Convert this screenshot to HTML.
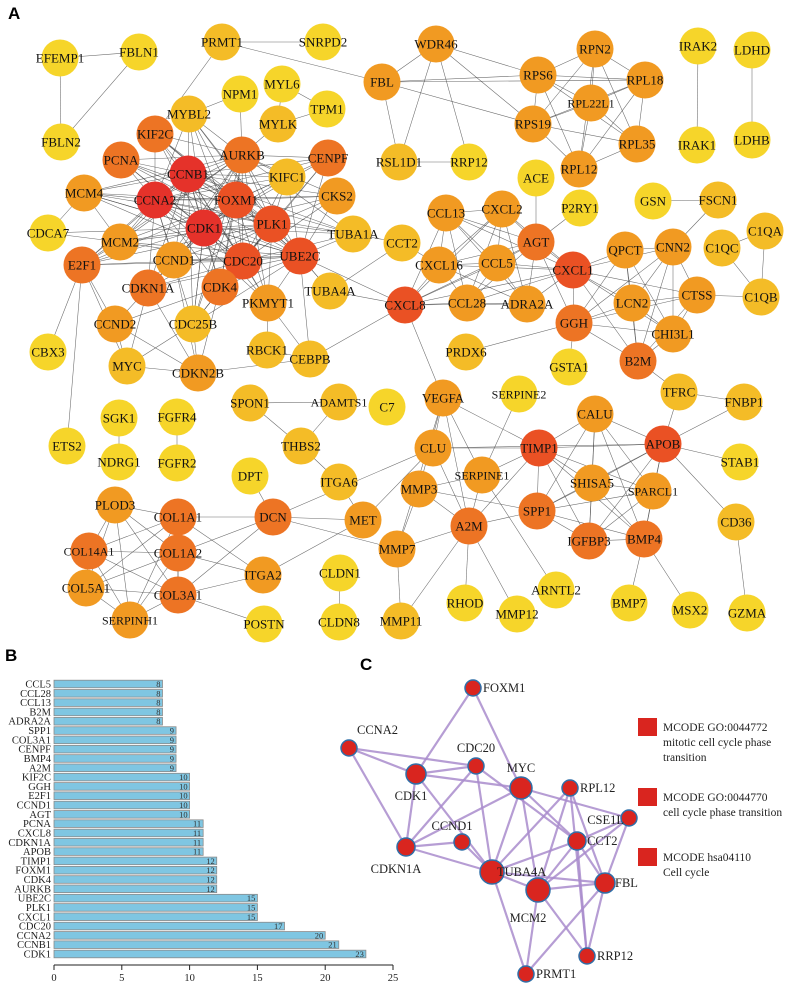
<!DOCTYPE html>
<html><head><meta charset="utf-8"><style>
body{margin:0;background:#fff;width:797px;height:988px;overflow:hidden}
svg{display:block;font-family:"Liberation Serif",serif}
</style></head><body>
<svg id="fig" width="797" height="988" viewBox="0 0 797 988" xmlns="http://www.w3.org/2000/svg">
<text x="8" y="19" font-family="Liberation Sans" font-weight="bold" font-size="17">A</text>
<text x="5" y="661" font-family="Liberation Sans" font-weight="bold" font-size="17">B</text>
<text x="360" y="670" font-family="Liberation Sans" font-weight="bold" font-size="17">C</text>
<g id="aEdges"></g>
<g id="aNodes"></g>
<g id="bChart"></g>
<g id="cEdges"></g>
<g id="cNodes"></g>
<g font-size="11.5" fill="#222">
<rect x="638" y="718" width="19" height="18" fill="#d9251f"/>
<text x="663" y="731">MCODE GO:0044772</text>
<text x="663" y="746">mitotic cell cycle phase</text>
<text x="663" y="761">transition</text>
<rect x="638" y="788" width="19" height="18" fill="#d9251f"/>
<text x="663" y="801">MCODE GO:0044770</text>
<text x="663" y="816">cell cycle phase transition</text>
<rect x="638" y="848" width="19" height="18" fill="#d9251f"/>
<text x="663" y="861">MCODE hsa04110</text>
<text x="663" y="876">Cell cycle</text>
</g>
</svg>
<script>
const NS="http://www.w3.org/2000/svg";
// ---- Panel B data ----
const barGenes=["CCL5","CCL28","CCL13","B2M","ADRA2A","SPP1","COL3A1","CENPF","BMP4","A2M","KIF2C","GGH","E2F1","CCND1","AGT","PCNA","CXCL8","CDKN1A","APOB","TIMP1","FOXM1","CDK4","AURKB","UBE2C","PLK1","CXCL1","CDC20","CCNA2","CCNB1","CDK1"];
const barValues=[8,8,8,8,8,9,9,9,9,9,10,10,10,10,10,11,11,11,11,12,12,12,12,15,15,15,17,20,21,23];
const xTicks=[0,5,10,15,20,25];

// ---- Panel A data ----
const nodeNames=["EFEMP1","FBLN1","FBLN2","PRMT1","SNRPD2","WDR46","FBL","RPN2","RPS6","RPL18","RPL22L1","RPS19","RPL35","RPL12","RSL1D1","RRP12","IRAK2","LDHD","IRAK1","LDHB","NPM1","MYL6","TPM1","MYLK","MYBL2","KIF2C","AURKB","CENPF","KIFC1","PCNA","CCNB1","FOXM1","CCNA2","MCM4","CKS2","CDK1","PLK1","TUBA1A","CDCA7","MCM2","CCND1","CDC20","UBE2C","E2F1","CDKN1A","CDK4","PKMYT1","TUBA4A","CCND2","CDC25B","CCT2","CCL13","CXCL2","ACE","P2RY1","AGT","CXCL16","CCL5","CXCL1","CCL28","ADRA2A","CXCL8","GGH","QPCT","CNN2","GSN","FSCN1","C1QC","C1QA","C1QB","LCN2","CTSS","CHI3L1","B2M","MYC","CDKN2B","RBCK1","CEBPB","CBX3","ETS2","SGK1","NDRG1","FGFR4","FGFR2","SPON1","ADAMTS1","C7","THBS2","DPT","ITGA6","PRDX6","GSTA1","VEGFA","SERPINE2","TFRC","FNBP1","CALU","TIMP1","APOB","CLU","SERPINE1","SHISA5","SPARCL1","STAB1","MMP3","SPP1","A2M","IGFBP3","BMP4","CD36","PLOD3","COL1A1","DCN","MET","COL14A1","COL1A2","ITGA2","COL5A1","COL3A1","SERPINH1","POSTN","CLDN1","CLDN8","MMP7","MMP11","RHOD","MMP12","ARNTL2","BMP7","MSX2","GZMA"];
const nodeX=[60,139,61,222,323,436,382,595,538,645,591,533,637,579,399,469,698,752,697,752,240,282,327,278,189,155,242,328,287,121,188,236,155,84,337,204,272,353,48,120,174,243,300,82,148,220,268,330,115,193,402,446,502,536,580,536,439,497,573,467,527,405,574,625,673,653,718,722,765,761,632,697,673,638,127,198,267,310,48,67,119,119,177,177,250,339,387,301,250,339,466,569,443,519,679,744,595,539,663,433,482,592,653,740,419,537,469,589,644,736,115,178,273,363,89,178,263,86,178,130,264,340,339,397,401,465,517,556,629,690,747];
const nodeY=[58,52,142,42,42,44,82,49,75,80,103,124,144,169,162,162,46,50,145,140,94,84,109,124,114,134,155,158,177,160,174,200,200,193,196,228,224,234,233,242,260,261,256,265,288,287,303,291,324,324,243,213,209,178,208,242,265,263,270,303,304,305,323,250,247,201,200,248,231,297,303,295,334,361,366,373,350,359,352,446,418,462,417,463,403,402,407,446,476,482,352,367,398,394,392,402,414,448,444,448,475,483,491,462,489,511,526,541,539,522,505,517,517,520,551,553,575,588,595,620,624,573,622,549,621,603,614,590,603,610,613];
const nodeLevel=[0,0,0,1,0,2,2,2,2,2,2,2,2,2,1,0,0,0,0,0,0,0,0,1,1,3,3,3,1,3,5,4,5,2,2,5,4,1,0,2,2,4,4,3,3,3,2,1,2,1,1,2,2,0,0,3,2,2,4,2,2,4,3,2,2,0,1,1,1,1,2,2,2,3,1,2,1,1,0,0,0,0,0,0,1,1,0,1,0,1,1,0,2,0,1,1,2,4,4,2,2,2,2,0,2,3,3,3,3,1,2,3,3,2,3,3,2,2,3,2,0,0,0,2,1,0,0,0,0,0,0];
const levelColors=["#f6d52a","#f4bc27","#f19a22","#ed7424","#ea5124","#e5322a"];
const hubs=["CCNB1","CCNA2","CDK1","FOXM1","PLK1","CDC20","UBE2C","AURKB"];
const coreMembers=["KIF2C","PCNA","MCM4","MCM2","CCND1","E2F1","CDKN1A","CDK4","PKMYT1","CENPF","KIFC1","CKS2","MYBL2","CDC25B","TUBA1A"];
const chemokines=["CCL13","CXCL2","CXCL16","CCL5","CCL28","ADRA2A","CXCL8","AGT","CXCL1"];
const ribosome=["RPN2","RPS6","RPL18","RPL22L1","RPS19","RPL35","RPL12"];
const collagen=["PLOD3","COL1A1","COL14A1","COL1A2","COL5A1","COL3A1","SERPINH1"];
const ecm=["TIMP1","CALU","APOB","SHISA5","SPARCL1","SPP1","IGFBP3","BMP4"];
const edgeList="EFEMP1-FBLN1 EFEMP1-FBLN2 FBLN1-FBLN2 PRMT1-SNRPD2 PRMT1-FBL PRMT1-KIF2C MYBL2-NPM1 NPM1-AURKB MYL6-MYLK MYL6-TPM1 MYLK-TPM1 MYLK-AURKB FBL-WDR46 FBL-RSL1D1 FBL-RPS6 FBL-RPL18 FBL-RPS19 WDR46-RPS6 WDR46-RPS19 WDR46-RSL1D1 WDR46-RRP12 RSL1D1-RRP12 IRAK2-IRAK1 LDHD-LDHB GSN-FSCN1 FSCN1-CNN2 C1QC-C1QA C1QC-C1QB C1QA-C1QB ACE-AGT P2RY1-AGT CXCL1-QPCT CXCL1-CNN2 CXCL1-LCN2 CXCL1-CTSS CXCL1-GGH CXCL1-CHI3L1 CXCL1-B2M AGT-GGH GGH-LCN2 GGH-CTSS GGH-CNN2 GGH-QPCT GGH-B2M GGH-CHI3L1 GGH-GSTA1 GGH-PRDX6 QPCT-CNN2 QPCT-LCN2 QPCT-CHI3L1 QPCT-B2M CNN2-LCN2 CNN2-CTSS CNN2-B2M CNN2-CHI3L1 LCN2-CTSS LCN2-CHI3L1 LCN2-B2M CTSS-C1QB CTSS-CHI3L1 CTSS-B2M CHI3L1-B2M B2M-TFRC TFRC-FNBP1 TFRC-APOB CCT2-TUBA1A CCT2-TUBA4A CCT2-CXCL16 TUBA4A-UBE2C TUBA4A-PLK1 TUBA4A-CXCL8 CXCL8-UBE2C CEBPB-CXCL8 CEBPB-RBCK1 CEBPB-CDKN2B CEBPB-PKMYT1 CEBPB-UBE2C RBCK1-PKMYT1 MYC-CDKN2B MYC-CCND2 MYC-CDC25B MYC-CDKN1A MYC-E2F1 CDKN2B-CCND2 CDKN2B-CDC25B CDKN2B-CDK4 CDKN2B-CDKN1A CDKN2B-CCND1 CDC25B-CDK1 CDC25B-CDC20 CCND2-CDK4 CCND2-CDKN1A CCND2-E2F1 CBX3-E2F1 ETS2-E2F1 MCM4-CDCA7 CDCA7-MCM2 CDCA7-CDK1 MCM4-MCM2 E2F1-MCM2 SGK1-NDRG1 FGFR4-FGFR2 SPON1-ADAMTS1 SPON1-THBS2 ADAMTS1-THBS2 THBS2-ITGA6 ITGA6-MET DPT-DCN DCN-COL1A1 DCN-COL1A2 DCN-COL3A1 DCN-MET DCN-MMP7 DCN-CLU MET-ITGA2 MET-CLU ITGA2-COL1A1 ITGA2-COL1A2 ITGA2-COL3A1 COL3A1-POSTN CLDN1-CLDN8 VEGFA-CXCL8 VEGFA-CLU VEGFA-SERPINE1 VEGFA-A2M VEGFA-TIMP1 VEGFA-MMP3 VEGFA-MMP7 CLU-TIMP1 CLU-A2M CLU-APOB SERPINE2-SERPINE1 SERPINE1-TIMP1 SERPINE1-A2M SERPINE1-MMP3 SERPINE1-ARNTL2 MMP3-SPP1 MMP3-A2M MMP3-MMP7 A2M-SPP1 A2M-TIMP1 A2M-MMP7 A2M-MMP11 A2M-RHOD A2M-MMP12 MMP7-MMP11 APOB-FNBP1 APOB-STAB1 APOB-CD36 BMP4-BMP7 BMP4-MSX2 CD36-GZMA";

// ---- Panel C data ----
const cNames=["FOXM1","CCNA2","CDC20","CDK1","MYC","RPL12","CSE1L","CCND1","CCT2","CDKN1A","TUBA4A","MCM2","FBL","RRP12","PRMT1"];
const cX=[473,349,476,416,521,570,629,462,577,406,492,538,605,587,526];
const cY=[688,748,766,774,788,788,818,842,841,847,872,890,883,956,974];
const cR=[8,8,8,10,11,8,8,8,9,9,12,12,10,8,8];
const cLabelDx=[10,8,0,-5,0,10,-5,-10,10,-10,5,-10,10,10,10];
const cLabelDy=[4,-14,-14,26,-16,4,6,-12,4,26,4,32,4,4,4];
const cAnchor=["start","start","middle","middle","middle","start","end","middle","start","middle","start","middle","start","start","start"];
const cEdgeList="FOXM1-CDK1 FOXM1-MYC CCNA2-CDK1 CCNA2-CDC20 CCNA2-CDKN1A CDK1-CDC20 CDK1-MYC CDK1-CDKN1A CDK1-TUBA4A CDC20-CDKN1A CDC20-TUBA4A CDC20-CCT2 MYC-CDKN1A MYC-TUBA4A MYC-MCM2 MYC-CCT2 MYC-CSE1L CCND1-CDKN1A CCND1-TUBA4A CDKN1A-TUBA4A RPL12-TUBA4A RPL12-MCM2 RPL12-FBL RPL12-RRP12 CSE1L-CCT2 CSE1L-FBL CSE1L-MCM2 CCT2-TUBA4A CCT2-MCM2 CCT2-FBL CCT2-RRP12 TUBA4A-MCM2 TUBA4A-FBL TUBA4A-PRMT1 MCM2-FBL MCM2-PRMT1 MCM2-RRP12 FBL-RRP12 FBL-PRMT1";

function mk(tag,attrs,parent){const e=document.createElementNS(NS,tag);for(const k in attrs)e.setAttribute(k,attrs[k]);parent.appendChild(e);return e;}

// Panel A
const idx={};nodeNames.forEach((n,i)=>idx[n]=i);
let pairs=edgeList.split(" ").map(s=>s.split("-"));
hubs.forEach((a,i)=>{hubs.forEach((b,j)=>{if(j>i)pairs.push([a,b]);});coreMembers.forEach(b=>pairs.push([a,b]));});
[chemokines,ribosome,collagen,ecm].forEach(g=>g.forEach((a,i)=>g.forEach((b,j)=>{if(j>i)pairs.push([a,b]);})));
const aE=document.getElementById("aEdges");
pairs.forEach(p=>{const a=idx[p[0]],b=idx[p[1]];if(a===undefined||b===undefined)return;
 const l=mk("line",{x1:nodeX[a],y1:nodeY[a],x2:nodeX[b],y2:nodeY[b],stroke:"#444","stroke-width":0.55,"stroke-opacity":0.8},aE);
 
 
});
const aN=document.getElementById("aNodes");
nodeNames.forEach((n,i)=>{
 const g=mk("g",{},aN);
 
 
 mk("circle",{cx:nodeX[i],cy:nodeY[i],r:18.5,fill:levelColors[nodeLevel[i]]},g);
 const t=mk("text",{x:nodeX[i],y:nodeY[i]+4.5,"text-anchor":"middle","font-size":n.length>6?12:13,fill:"#111"},g);
 t.textContent=n;
});

// Panel B
const bG=document.getElementById("bChart");
const x0=54,xs=13.56,y0=684,dy=9.31,bh=7.6,axisY=965;
const xPos=v=>x0+v*xs;
barGenes.forEach((gname,i)=>{
 const cy=y0+i*dy;
 const r=mk("rect",{x:x0,y:cy-bh/2,width:xPos(barValues[i])-x0,height:bh,fill:"#7fc6e2",stroke:"#8a8a8a","stroke-width":0.8},bG);
 
 
 const lb=mk("text",{x:51,y:cy+3.5,"text-anchor":"end","font-size":10.5,fill:"#222"},bG);
 
 
 lb.textContent=gname;
 const vt=mk("text",{x:xPos(barValues[i])-2,y:cy+3,"text-anchor":"end","font-size":8.5,fill:"#333"},bG);
 
 
 vt.textContent=barValues[i];
});
const ax=mk("line",{x1:x0,y1:axisY,x2:xPos(25),y2:axisY,stroke:"#222","stroke-width":1},bG);


xTicks.forEach(v=>{
 mk("line",{x1:xPos(v),y1:axisY,x2:xPos(v),y2:axisY+5,stroke:"#222","stroke-width":1},bG);
 const t=mk("text",{x:xPos(v),y:axisY+16,"text-anchor":"middle","font-size":10.5,fill:"#222"},bG);
 
 
 t.textContent=v;
});

// Panel C
const cIdx={};cNames.forEach((n,i)=>cIdx[n]=i);
const cE=document.getElementById("cEdges");
cEdgeList.split(" ").forEach(s=>{const p=s.split("-");const a=cIdx[p[0]],b=cIdx[p[1]];
 const l=mk("line",{x1:cX[a],y1:cY[a],x2:cX[b],y2:cY[b],stroke:"#a98ccc","stroke-width":2.2,"stroke-opacity":0.85},cE);
 
 
});
const cN=document.getElementById("cNodes");
cNames.forEach((n,i)=>{
 const g=mk("g",{},cN);
 
 
 mk("circle",{cx:cX[i],cy:cY[i],r:cR[i],fill:"#d9251f",stroke:"#2f6fa8","stroke-width":1.5},g);
 const t=mk("text",{x:cX[i]+cLabelDx[i],y:cY[i]+cLabelDy[i],"text-anchor":cAnchor[i],"font-size":12.5,fill:"#222"},g);
 t.textContent=n;
});
</script>
</body></html>
